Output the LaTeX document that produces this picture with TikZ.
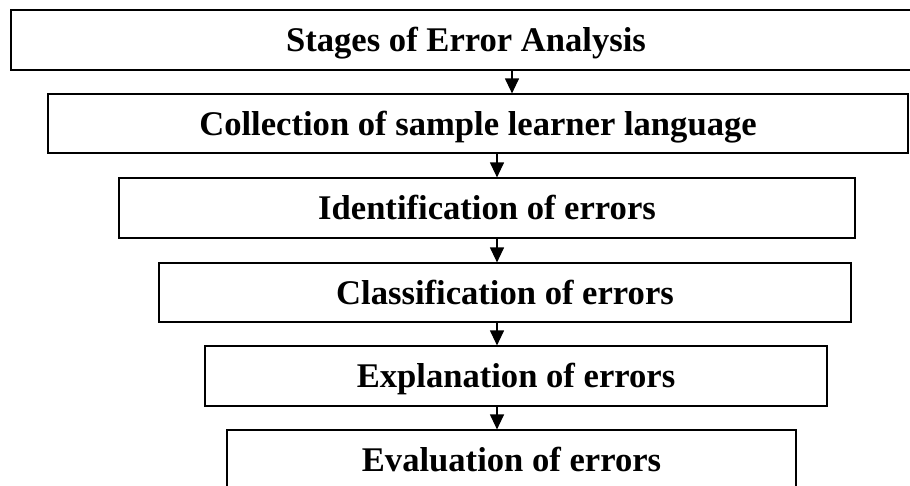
\documentclass[tikz,border=0pt]{standalone}
\usepackage{fontspec}
\setmainfont{Liberation Serif}
\usetikzlibrary{arrows.meta}
\begin{document}
\begin{tikzpicture}[x=1pt,y=-1pt,
  stagebox/.style={draw, line width=1.2pt, inner sep=0pt, anchor=center,
    font=\fontsize{34.6}{40}\selectfont\bfseries, text height=23pt, text depth=0pt},
  arr/.style={line width=1.2pt, -{Triangle[length=15pt,width=14pt]}}]
\useasboundingbox (0,0) rectangle (910,485);
\node[stagebox, minimum width=910pt, minimum height=60pt] (b1) at (466,40) {Stages of Error Analysis};
\node[stagebox, minimum width=860pt, minimum height=59pt] (b2) at (478,123.5) {Collection of sample learner language};
\node[stagebox, minimum width=736pt, minimum height=60pt] (b3) at (487,208) {Identification of errors};
\node[stagebox, minimum width=692pt, minimum height=59pt] (b4) at (505,292.5) {Classification of errors};
\node[stagebox, minimum width=622pt, minimum height=60pt] (b5) at (516,376) {Explanation of errors};
\node[stagebox, minimum width=569pt, minimum height=60pt] (b6) at (511.5,460) {Evaluation of errors};
\coordinate (c1) at (512,0);
\coordinate (c2) at (497,0);
\draw[arr] (b1.south -| c1) -- (b2.north -| c1);
\draw[arr] (b2.south -| c2) -- (b3.north -| c2);
\draw[arr] (b3.south -| c2) -- (b4.north -| c2);
\draw[arr] (b4.south -| c2) -- (b5.north -| c2);
\draw[arr] (b5.south -| c2) -- (b6.north -| c2);
\end{tikzpicture}
\end{document}
